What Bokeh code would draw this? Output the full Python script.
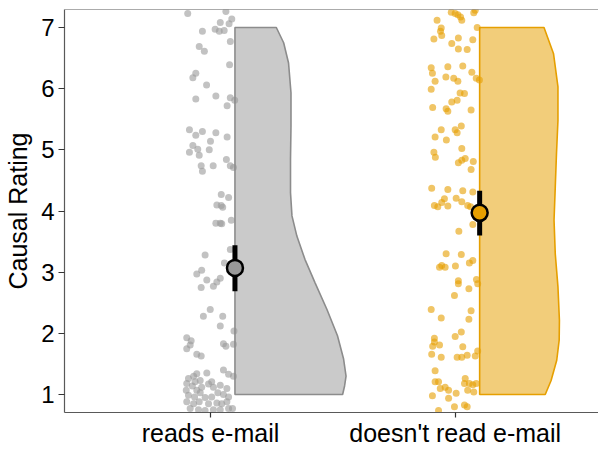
from bokeh.plotting import figure
from bokeh.models import Range1d, FixedTicker, Span
from bokeh.embed import file_html
from bokeh.resources import INLINE

# ---------------- data ----------------
categories = ["reads e-mail", "doesn't read e-mail"]
group_colors = ["#999999", "#E69F00"]
y_ticks = [1, 2, 3, 4, 5, 6, 7]

# jittered raw responses (horizontal jitter offset, rating incl. vertical jitter)
reads_jitter = [
    -0.093, 0.063, 0.087, 0.076, 0.040, -0.033, 0.019, 0.036, 0.056, 0.081,
    -0.046, -0.025, 0.078, -0.060, -0.072, -0.016, -0.060, 0.022, 0.081, 0.099,
    0.068, -0.086, -0.060, -0.033, 0.022, 0.068, 0.000, -0.072, -0.052, -0.086,
    -0.046, -0.005, 0.065, -0.038, -0.033, 0.011, 0.081, 0.094, 0.044, 0.074,
    0.026, 0.044, 0.050,
    0.022, 0.040, 0.046, 0.085, -0.022, 0.081, -0.036, -0.056, -0.015, 0.040,
    0.026, 0.012, -0.038, 0.057, -0.001, -0.029, 0.050, 0.040, 0.096, -0.097,
    -0.079, -0.083, -0.097, 0.053, 0.063, 0.094, -0.056, -0.038, 0.053, 0.074,
    0.094, -0.015, -0.056, -0.069, -0.090, -0.042, 0.005, 0.040, 0.067, -0.097,
    -0.074, -0.056, -0.036, -0.008, 0.012, 0.030, 0.053, -0.090, -0.065, -0.042,
    -0.022, 0.005, 0.074, -0.097, -0.069, -0.046, -0.008, 0.026, 0.046, 0.067,
    -0.083, -0.049, -0.022, 0.012, 0.040, 0.074, -0.099, -0.063, 0.090,
]
reads_rating = [
    7.23, 7.26, 7.14, 7.06, 7.08, 6.94, 6.97, 6.94, 6.95, 6.77,
    6.69, 6.61, 6.39, 6.25, 6.18, 6.06, 5.83, 5.88, 5.85, 5.81,
    5.72, 5.33, 5.24, 5.30, 5.28, 5.21, 5.14, 5.07, 5.01, 4.96,
    4.91, 5.00, 4.84, 4.74, 4.65, 4.74, 4.74, 4.71, 4.27, 4.22,
    4.10, 4.09, 4.06,
    3.80, 3.80, 3.79, 3.85, 3.28, 3.37, 3.03, 2.97, 2.87, 2.90,
    2.84, 2.77, 2.75, 3.15, 2.39, 2.28, 2.28, 2.12, 2.04, 1.93,
    1.88, 1.81, 1.75, 1.83, 1.79, 1.82, 1.66, 1.63, 1.40, 1.33,
    1.30, 1.35, 1.34, 1.30, 1.26, 1.23, 1.21, 1.15, 1.10, 1.18,
    1.14, 1.07, 1.12, 1.17, 1.12, 1.03, 1.00, 0.99, 0.96, 1.03,
    0.95, 0.96, 0.96, 0.88, 0.85, 0.88, 0.85, 0.86, 0.85, 0.88,
    0.77, 0.75, 0.74, 0.75, 0.75, 0.77, 1.07, 1.21, 0.77,
]
noread_jitter = [
    -0.016, 0.000, 0.011, 0.022, 0.027, 0.076, 0.082, -0.074, -0.057, -0.060,
    -0.087, -0.055, 0.090, 0.013, -0.014, 0.072, 0.013, 0.049, -0.098, -0.093,
    -0.030, 0.031, 0.068, -0.082, -0.038, -0.006, 0.011, 0.086, 0.099, -0.098,
    0.020, 0.038, -0.014, 0.008, -0.037, -0.030, -0.092, 0.065, -0.057, -0.082,
    0.000, 0.008, 0.025, -0.036, -0.087, -0.081, 0.027, 0.013, 0.027, 0.041,
    0.074, 0.065, -0.096, -0.030, 0.031, 0.072, -0.044, -0.055, -0.085, -0.030,
    0.004, 0.027, 0.051, -0.071, 0.063,
    0.072, 0.015, -0.037, 0.025, -0.064, -0.055, -0.041, 0.001, 0.058, 0.072,
    0.013, 0.013, 0.087, 0.092, 0.056, -0.003, -0.098, -0.057, 0.065, 0.056,
    -0.085, -0.092, -0.064, -0.085, -0.096, -0.057, 0.000, 0.025, 0.031, 0.008,
    0.027, 0.049, 0.082, 0.092, -0.082, -0.082, -0.068, -0.041, -0.027, -0.061,
    0.041, 0.038, 0.058, 0.072, 0.086, 0.051, 0.076, 0.004, -0.027, -0.093,
    -0.003, -0.068, 0.038, 0.049,
]
noread_rating = [
    7.25, 7.23, 7.21, 7.17, 7.12, 7.24, 7.28, 7.12, 6.99, 6.94,
    6.81, 6.87, 7.00, 6.83, 6.74, 6.80, 6.65, 6.64, 6.34, 6.25,
    6.36, 6.37, 6.27, 6.12, 6.19, 6.17, 6.12, 6.17, 6.14, 5.99,
    5.93, 5.92, 5.78, 5.81, 5.67, 5.63, 5.69, 5.65, 5.33, 5.21,
    5.33, 5.28, 5.39, 5.16, 4.96, 4.88, 5.02, 4.79, 4.83, 4.86,
    4.81, 4.68, 4.37, 4.35, 4.33, 4.31, 4.20, 4.14, 4.09, 4.08,
    4.21, 4.15, 4.09, 4.07, 4.07,
    3.78, 3.67, 3.30, 3.29, 3.08, 3.11, 3.08, 3.10, 3.15, 3.19,
    2.86, 2.81, 2.88, 2.81, 2.73, 2.62, 2.39, 2.25, 2.37, 2.23,
    1.92, 1.79, 1.81, 1.86, 1.66, 1.61, 1.95, 2.02, 1.78, 1.61,
    1.61, 1.64, 1.63, 1.71, 1.39, 1.21, 1.21, 1.12, 1.07, 1.10,
    1.26, 1.18, 1.18, 1.16, 1.18, 1.07, 1.04, 1.02, 0.94, 0.98,
    0.80, 0.74, 0.83, 0.80,
]

# half-violin density profiles (rating level, density width in x units)
reads_density_y = [1.0, 1.14, 1.30, 1.58, 1.96, 2.39, 2.83, 3.21, 3.59,
                   3.92, 4.30, 4.84, 5.39, 5.93, 6.42, 6.75, 7.0]
reads_density_w = [0.440, 0.448, 0.454, 0.444, 0.419, 0.376, 0.327, 0.286, 0.253,
                   0.233, 0.227, 0.227, 0.229, 0.229, 0.219, 0.199, 0.169]
noread_density_y = [1.0, 1.23, 1.56, 1.89, 2.21, 2.76, 3.30, 3.85, 4.39,
                    4.94, 5.48, 6.03, 6.57, 7.0]
noread_density_w = [0.268, 0.292, 0.315, 0.325, 0.326, 0.320, 0.309, 0.304, 0.309,
                    0.314, 0.320, 0.320, 0.302, 0.263]

# mean and 95% CI
means = [3.07, 3.97]
ci_low = [2.69, 3.60]
ci_high = [3.44, 4.33]

# ---------------- plot ----------------
FONT = "Liberation Sans"
NUDGE = 0.1
AXIS_COL = "#595959"
OUTLINE_COLORS = ["#8c8c8c", "#E69F00"]

p = figure(width=598, height=449, output_backend="svg", toolbar_location=None,
           x_range=Range1d(0.4034, 2.5857), y_range=Range1d(0.706, 7.294),
           min_border_top=9, min_border_right=0, min_border_left=64,
           min_border_bottom=0)
p.outline_line_color = None
p.xgrid.grid_line_color = None
p.ygrid.grid_line_color = None
p.background_fill_color = "white"
p.border_fill_color = "white"

jitters = [reads_jitter, noread_jitter]
ratings = [reads_rating, noread_rating]
dens_y = [reads_density_y, noread_density_y]
dens_w = [reads_density_w, noread_density_w]

# raw points
for i in range(2):
    xc = i + 1
    p.scatter([xc + j for j in jitters[i]], ratings[i], size=7,
              fill_color=group_colors[i], fill_alpha=0.6, line_color=None)

# half violins
for i in range(2):
    base = i + 1 + NUDGE
    ys = [dens_y[i][0]] + list(dens_y[i]) + [dens_y[i][-1]]
    xs = [base] + [base + w for w in dens_w[i]] + [base]
    p.patch(xs, ys, fill_color=group_colors[i], fill_alpha=0.52,
            line_color=OUTLINE_COLORS[i], line_width=1.6)

# mean + CI
xpos = [i + 1 + NUDGE for i in range(2)]
p.segment(x0=xpos, y0=ci_low, x1=xpos, y1=ci_high, line_color="black", line_width=5)
p.scatter(xpos, means, size=16, fill_color=group_colors, line_color="black",
          line_width=2.5)

# top border of panel
p.add_layout(Span(location=p.y_range.end, dimension="width",
                  line_color=AXIS_COL, line_width=1.2))

# axes
p.xaxis.ticker = FixedTicker(ticks=[1, 2])
p.xaxis.major_label_overrides = {1: categories[0], 2: categories[1]}
p.xaxis.axis_label = None
p.xaxis.axis_label_standoff = 0
p.yaxis.ticker = FixedTicker(ticks=y_ticks)
p.yaxis.axis_label = "Causal Rating"
for ax in (p.xaxis, p.yaxis):
    ax.axis_line_color = AXIS_COL
    ax.axis_line_width = 1.2
    ax.major_tick_line_color = "#333333"
    ax.major_tick_line_width = 1.2
    ax.major_tick_in = 0
    ax.minor_tick_line_color = None
    ax.major_label_text_font = FONT
    ax.major_label_text_font_size = "24px"
    ax.major_label_text_color = "black"
    ax.axis_label_text_font = FONT
    ax.axis_label_text_font_size = "25px"
    ax.axis_label_text_font_style = "normal"
    ax.axis_label_text_color = "black"
p.xaxis.major_label_text_font_size = "25px"
p.yaxis.major_tick_out = 6
p.xaxis.major_tick_out = 5
p.yaxis.major_label_standoff = 4
p.yaxis.axis_label_standoff = 6
p.xaxis.major_label_standoff = 1

open("out.html", "w").write(file_html(p, INLINE))
